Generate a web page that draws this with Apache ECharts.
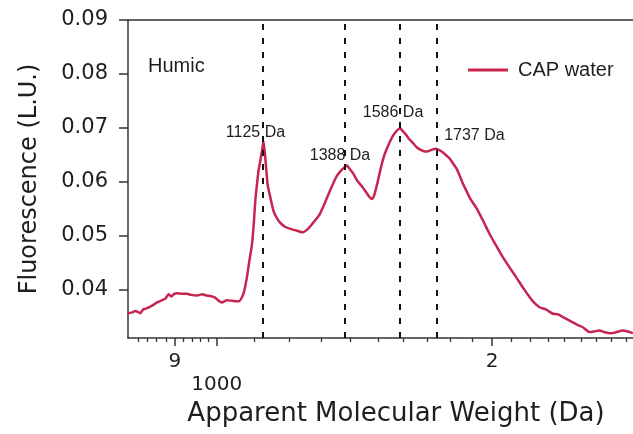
<!DOCTYPE html>
<html>
<head>
<meta charset="utf-8">
<script src="https://cdn.jsdelivr.net/npm/echarts@6/dist/echarts.min.js"></script>
<style>
  html, body { margin: 0; padding: 0; background: #fff; }
  #chart { width: 633px; height: 434px; }
</style>
</head>
<body>
<div id="chart"></div>
<script>
// Apparent molecular weight (Da) of each sample point
const molecularWeight = [
  800, 807, 815, 821, 825, 831, 836, 843, 850, 861, 871, 879, 886, 892, 897, 905, 915, 928, 938, 952,
  964, 974, 984, 996, 1005, 1013, 1026, 1040, 1057, 1066, 1072, 1079, 1085, 1093, 1098, 1102, 1107, 1111, 1116, 1121,
  1125, 1133, 1137, 1142, 1153, 1164, 1176, 1192, 1211, 1224, 1241, 1259, 1278, 1296, 1316, 1335, 1352, 1368, 1380, 1388,
  1398, 1410, 1424, 1443, 1457, 1468, 1477, 1483, 1488, 1499, 1512, 1523, 1535, 1548, 1559, 1570, 1586, 1597, 1609, 1621,
  1638, 1654, 1671, 1688, 1705, 1723, 1737, 1753, 1767, 1781, 1797, 1812, 1827, 1842, 1858, 1873, 1889, 1905, 1921, 1954,
  1987, 2019, 2054, 2089, 2124, 2160, 2197, 2221, 2253, 2289, 2330, 2359, 2389, 2419, 2450, 2481, 2512, 2555, 2583, 2620,
  2649, 2687, 2723, 2778, 2813, 2849
];

// Fluorescence (L.U.) of CAP water, humic region
const capWater = [
  0.0356, 0.0357, 0.0360, 0.0358, 0.0356, 0.0363, 0.0364, 0.0367, 0.0370, 0.0376, 0.0380, 0.0383, 0.0391, 0.0387, 0.0391, 0.0393, 0.0392, 0.0392, 0.0390, 0.0389,
  0.0391, 0.0389, 0.0388, 0.0385, 0.0379, 0.0376, 0.0380, 0.0379, 0.0378, 0.0386, 0.0398, 0.0423, 0.0450, 0.0485, 0.0524, 0.0565, 0.0597, 0.0621, 0.0639, 0.0658,
  0.0676, 0.0621, 0.0593, 0.0578, 0.0547, 0.0532, 0.0522, 0.0515, 0.0511, 0.0509, 0.0506, 0.0513, 0.0526, 0.0540, 0.0565, 0.0590, 0.0610, 0.0621, 0.0627, 0.0630,
  0.0623, 0.0615, 0.0602, 0.0590, 0.0580, 0.0572, 0.0568, 0.0571, 0.0578, 0.0599, 0.0627, 0.0647, 0.0662, 0.0676, 0.0686, 0.0693, 0.0699, 0.0694, 0.0688, 0.0680,
  0.0672, 0.0664, 0.0659, 0.0656, 0.0657, 0.0660, 0.0661, 0.0658, 0.0654, 0.0649, 0.0643, 0.0634, 0.0625, 0.0612, 0.0596, 0.0584, 0.0571, 0.0561, 0.0552, 0.0528,
  0.0503, 0.0482, 0.0460, 0.0441, 0.0423, 0.0404, 0.0386, 0.0376, 0.0367, 0.0363, 0.0355, 0.0354, 0.0349, 0.0344, 0.0339, 0.0334, 0.0330, 0.0321, 0.0322, 0.0324,
  0.0321, 0.0319, 0.0320, 0.0324, 0.0322, 0.0319
];

// Peak positions marked with dashed lines (Da)
const peakWeights = [1125, 1388, 1586, 1737];

// Axis ticks
const xMajorTicks = [900, 1000, 2000];
const xMinorTicks = [820, 840, 860, 880, 920, 940, 960, 980,
  1100, 1200, 1300, 1400, 1500, 1600, 1700, 1800, 1900,
  2100, 2200, 2300, 2400, 2500, 2600, 2700, 2800];
const yTicks = [0.04, 0.05, 0.06, 0.07, 0.08, 0.09];

const xRange = [800, 2850];
const yRange = [0.031, 0.09];

// The x axis is logarithmic: values are placed in log10 space on a value axis
const lg = Math.log10;
const INK = '#1e1e1e';
const CURVE = '#c62550';
const AXIS_FONT = 'DejaVu Sans';
const NOTE_FONT = 'Liberation Sans';

// Placement of the peak captions (fluorescence level, horizontal offset, alignment)
const peakCaptionLayout = [
  { y: 0.0691, dx: -8, align: 'center' },
  { y: 0.0649, dx: -7, align: 'center' },
  { y: 0.0728, dx: -7, align: 'center' },
  { y: 0.0686, dx: 8, align: 'left' }
];

const chart = echarts.init(document.getElementById('chart'), null, { renderer: 'canvas' });

const baseX = { type: 'value', min: lg(xRange[0]), max: lg(xRange[1]), splitLine: { show: false } };

chart.setOption({
  backgroundColor: '#fff',
  animation: false,
  grid: { left: 128, right: 0, top: 20, bottom: 96 },
  legend: {
    data: ['CAP water'],
    left: 468, top: 60, padding: 0,
    icon: 'rect', itemWidth: 40, itemHeight: 3,
    textStyle: { fontFamily: NOTE_FONT, fontSize: 20, color: INK, padding: [0, 0, 0, 5] }
  },
  xAxis: [
    Object.assign({}, baseX, {
      position: 'bottom',
      axisLine: { show: true, lineStyle: { color: '#333', width: 1.5 } },
      axisTick: { show: true, length: 8, lineStyle: { color: '#333', width: 1.5 },
        customValues: xMajorTicks.map(lg) },
      axisLabel: {
        show: true, customValues: xMajorTicks.map(lg), margin: 12,
        fontFamily: AXIS_FONT, fontSize: 20, color: INK, lineHeight: 23,
        formatter: v => {
          const d = Math.round(Math.pow(10, v));
          return d === 1000 ? '\n1000' : String(d / Math.pow(10, Math.floor(lg(d))));
        }
      },
      name: 'Apparent Molecular Weight (Da)',
      nameLocation: 'middle', nameGap: 63,
      nameTextStyle: { fontFamily: AXIS_FONT, fontSize: 26, color: INK, padding: [0, 0, 0, 31] }
    }),
    Object.assign({}, baseX, {
      position: 'bottom',
      axisLine: { show: false },
      axisTick: { show: true, length: 4, lineStyle: { color: '#333', width: 1.3 },
        customValues: xMinorTicks.map(lg) },
      axisLabel: { show: false }
    }),
    Object.assign({}, baseX, {
      position: 'top',
      axisLine: { show: true, lineStyle: { color: '#333', width: 1.5 } },
      axisTick: { show: false },
      axisLabel: { show: false }
    })
  ],
  yAxis: {
    type: 'value', min: yRange[0], max: yRange[1],
    splitLine: { show: false },
    axisLine: { show: true, lineStyle: { color: '#333', width: 1.5 } },
    axisTick: { show: true, length: 9, customValues: yTicks, lineStyle: { color: '#333', width: 1.5 } },
    axisLabel: { customValues: yTicks, margin: 20, fontFamily: AXIS_FONT, fontSize: 21, color: INK,
      formatter: v => v.toFixed(2) },
    name: 'Fluorescence (L.U.)',
    nameLocation: 'middle', nameGap: 86,
    nameTextStyle: { fontFamily: AXIS_FONT, fontSize: 24, color: INK }
  },
  graphic: [
    { type: 'text', left: 148, top: 56, silent: true,
      style: { text: 'Humic', fontFamily: NOTE_FONT, fontSize: 20, fill: INK } }
  ],
  series: [
    {
      name: 'CAP water',
      type: 'line',
      xAxisIndex: 0,
      data: molecularWeight.map((d, i) => [lg(d), capWater[i]]),
      showSymbol: false,
      smooth: 0.2,
      lineStyle: { color: CURVE, width: 2.5 },
      itemStyle: { color: CURVE },
      z: 3
    },
    {
      name: 'peaks',
      type: 'scatter',
      xAxisIndex: 0,
      symbolSize: 0,
      silent: true,
      itemStyle: { opacity: 1 },
      data: peakWeights.map((w, i) => ({
        value: [lg(w), peakCaptionLayout[i].y],
        label: {
          show: true,
          position: 'inside',
          offset: [peakCaptionLayout[i].dx, 0],
          align: peakCaptionLayout[i].align,
          formatter: w + ' Da'
        }
      })),
      label: { fontFamily: NOTE_FONT, fontSize: 16, color: INK, opacity: 1 },
      markLine: {
        silent: true,
        symbol: 'none',
        label: { show: false },
        lineStyle: { color: '#111', width: 2, type: [6, 8], opacity: 1 },
        data: peakWeights.map(w => ({ xAxis: lg(w) }))
      },
      z: 4
    }
  ]
});
</script>
</body>
</html>
